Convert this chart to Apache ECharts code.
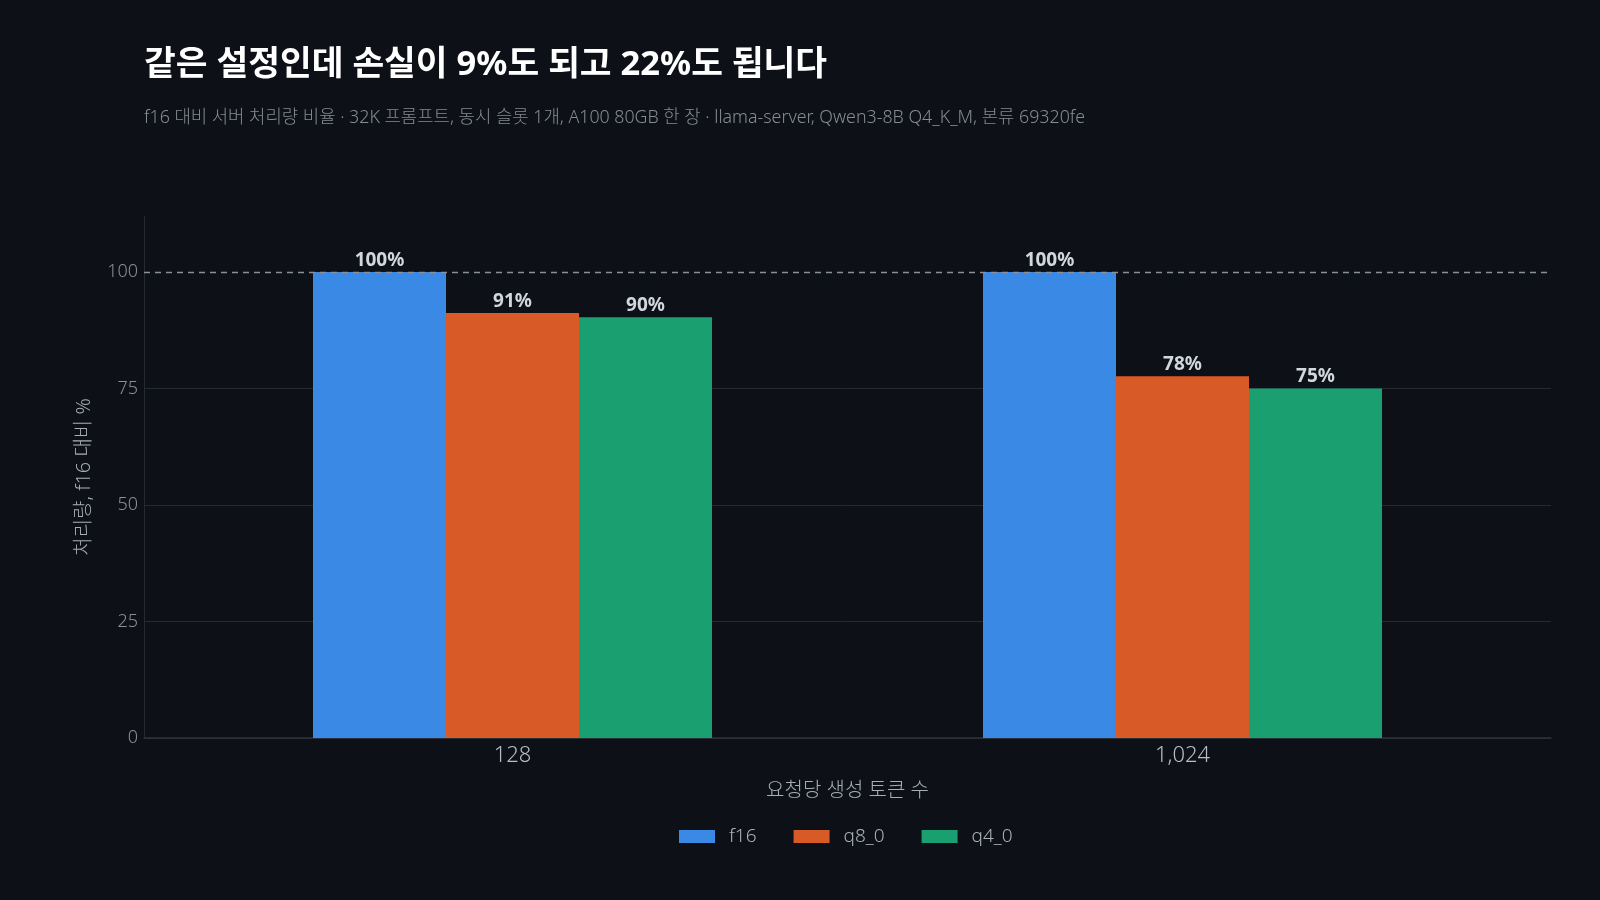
<!DOCTYPE html>
<html>
<head>
<meta charset="utf-8">
<script src="https://cdn.jsdelivr.net/npm/echarts@6/dist/echarts.min.js"></script>
<style>
html,body{margin:0;padding:0;background:#0d1017;}
#chart{width:1600px;height:900px;}
</style>
</head>
<body>
<div id="chart"></div>
<script>
const titleText = '같은 설정인데 손실이 9%도 되고 22%도 됩니다';
const subtitleText = 'f16 대비 서버 처리량 비율 · 32K 프롬프트, 동시 슬롯 1개, A100 80GB 한 장 · llama-server, Qwen3-8B Q4_K_M, 본류 69320fe';
const categories = ['128', '1,024'];
const seriesNames = ['f16', 'q8_0', 'q4_0'];
const f16Values = [100, 100];
const q8Values = [91.2, 77.6];
const q4Values = [90.3, 75.0];
const yTicks = [0, 25, 50, 75, 100];
const xAxisName = '요청당 생성 토큰 수';
const yAxisName = '처리량, f16 대비 %';
const colors = ['#3a89e5', '#d85a27', '#1a9f71'];

const FONT = "'Noto Sans', 'Noto Sans CJK KR', sans-serif";
const allValues = [f16Values, q8Values, q4Values];

const chart = echarts.init(document.getElementById('chart'), null, {renderer: 'canvas'});

const series = seriesNames.map((name, i) => ({
  name: name,
  type: 'bar',
  barWidth: 133,
  barGap: '0%',
  itemStyle: {color: colors[i], borderWidth: 0},
  data: allValues[i].map((v, k) => [k, v]),
  label: {
    show: true,
    position: 'top',
    distance: 2,
    color: '#d2d6de',
    fontFamily: FONT,
    fontWeight: 'bold',
    fontSize: 19,
    formatter: p => Math.round(p.value[1]) + '%'
  },
  markLine: i === 0 ? {
    silent: true,
    symbol: ['none', 'none'],
    label: {show: false},
    lineStyle: {color: '#8a909a', type: [6, 5], width: 1.3},
    data: [{yAxis: 100}],
    z: 10
  } : undefined
}));

chart.setOption({
  backgroundColor: '#0d1017',
  animation: false,
  title: [
    {
      text: titleText,
      left: 144, top: 48, padding: 0,
      textStyle: {color: '#ffffff', fontFamily: FONT, fontWeight: 'bold', fontSize: 34.5}
    },
    {
      text: subtitleText,
      left: 144, top: 109, padding: 0,
      textStyle: {color: '#868b94', fontFamily: FONT, fontWeight: 300, fontSize: 17.8}
    }
  ],
  legend: {
    left: 679, top: 827, padding: 0,
    itemWidth: 36, itemHeight: 13, itemGap: 37,
    icon: 'rect',
    textStyle: {color: '#aab0ba', fontFamily: FONT, fontWeight: 300, fontSize: 19, padding: [0, 0, 0, 9]},
    data: seriesNames
  },
  grid: {left: 144, right: 49, top: 216, bottom: 162, containLabel: false},
  xAxis: {
    type: 'value',
    min: -0.55, max: 1.55,
    name: xAxisName,
    nameLocation: 'middle',
    nameGap: 43,
    nameTextStyle: {color: '#a8adb6', fontFamily: FONT, fontWeight: 300, fontSize: 20},
    axisLine: {show: true, onZero: false, lineStyle: {color: '#2e323a', width: 1.5}},
    axisTick: {show: false, customValues: [0, 1]},
    splitLine: {show: false},
    axisLabel: {
      customValues: [0, 1],
      formatter: v => categories[Math.round(v)],
      color: '#b8bcc4', fontFamily: FONT, fontWeight: 300, fontSize: 22, margin: 7
    }
  },
  yAxis: {
    type: 'value',
    min: 0, max: 112,
    name: yAxisName,
    nameLocation: 'middle',
    nameGap: 50,
    nameTextStyle: {color: '#a8adb6', fontFamily: FONT, fontWeight: 300, fontSize: 20},
    axisLine: {show: true, onZero: false, lineStyle: {color: '#252932', width: 1}},
    axisTick: {show: false, customValues: [0, 25, 50, 75]},
    splitLine: {show: true, lineStyle: {color: '#262a32', width: 1}},
    axisLabel: {
      customValues: yTicks,
      color: '#8a8f98', fontFamily: FONT, fontWeight: 300, fontSize: 18, margin: 6
    }
  },
  series: series
});
</script>
</body>
</html>
